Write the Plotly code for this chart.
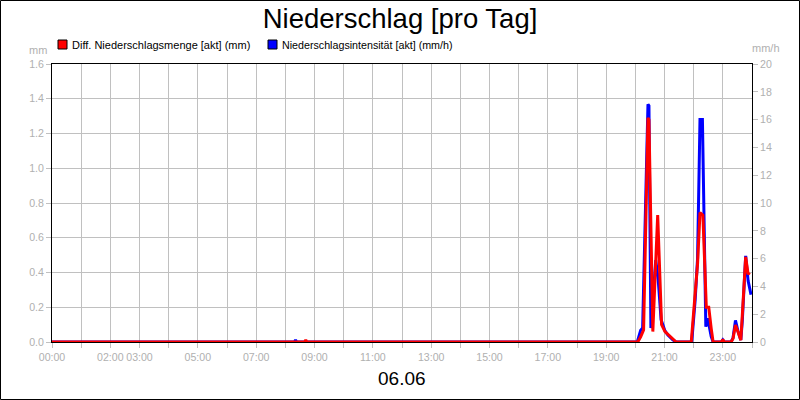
import pandas as pd
import plotly.graph_objects as go

DAY = "2024-06-06 "

# Niederschlagsintensität [mm/h] (rechte Achse)
int_times = ["00:00", "08:19", "08:21", "08:23",
             "20:04", "20:11", "20:15", "20:26", "20:28", "20:32", "20:42", "20:47",
             "20:53", "21:01", "21:07", "21:13", "21:17", "21:24",
             "21:56", "22:03", "22:08", "22:13", "22:18", "22:25", "22:29", "22:36", "22:40",
             "22:57", "23:00", "23:03",
             "23:17", "23:21", "23:26", "23:31", "23:37", "23:40", "23:47", "23:52", "23:58"]
int_vals = [0, 0, 0.15, 0,
            0, 0.85, 1.0, 17.1, 17.0, 1.0, 5.9, 4.5,
            1.6, 0.8, 0.5, 0.3, 0.15, 0,
            0, 3.0, 6.0, 16.0, 16.0, 1.1, 1.7, 0.4, 0,
            0, 0.15, 0,
            0, 0.3, 1.55, 0.8, 0.15, 1.5, 6.2, 4.4, 3.4]

# Diff. Niederschlagsmenge [mm] (linke Achse)
sum_times = ["00:00", "08:40", "08:42", "08:44",
             "20:05", "20:11", "20:17", "20:26", "20:28", "20:36", "20:46", "20:54",
             "21:01", "21:09", "21:17", "21:24",
             "21:55", "22:03", "22:08", "22:13", "22:19", "22:26", "22:31", "22:36", "22:40",
             "22:57", "23:00", "23:03",
             "23:17", "23:21", "23:26", "23:31", "23:37", "23:40", "23:47", "23:52", "23:55"]
sum_vals = [0, 0, 0.012, 0,
            0, 0.03, 0.07, 1.29, 1.28, 0.06, 0.73, 0.1,
            0.06, 0.04, 0.02, 0,
            0, 0.26, 0.45, 0.745, 0.73, 0.2, 0.2, 0.08, 0,
            0, 0.015, 0,
            0, 0.02, 0.098, 0.06, 0.01, 0.15, 0.49, 0.39, 0.4]

hours = list(range(25))
labelled = [0, 2, 3, 5, 7, 9, 11, 13, 15, 17, 19, 21, 23]

tickvals = [pd.Timestamp(DAY + "00:00") + pd.Timedelta(hours=h) for h in hours]
ticktext = ["%02d:00" % h if h in labelled else "" for h in hours]

GRID = "#c0c0c0"
TXT = "#b0b0b0"
FONT = "Liberation Sans"
TICK = 10.6

fig = go.Figure()
# empty trace keeps the base subplot (grid) alive
fig.add_trace(go.Scatter(x=[], y=[], yaxis="y", showlegend=False, hoverinfo="skip"))
# blue on y2 (right axis), red on y3 (left axis) so red is drawn on top
fig.add_trace(go.Scatter(
    x=pd.to_datetime([DAY + t for t in int_times]), y=int_vals, yaxis="y2",
    mode="lines", line=dict(color="#0000ff", width=3), showlegend=False))
fig.add_trace(go.Scatter(
    x=pd.to_datetime([DAY + t for t in sum_times]), y=sum_vals, yaxis="y3",
    mode="lines", line=dict(color="#ff0000", width=3), showlegend=False))

# plot area: x 52..752, y 64..342 px
def px_x(p):
    return (p - 52) / 700.0

def px_y(p):
    return (342 - p) / 278.0

shapes = [
    dict(type="rect", xref="paper", yref="paper",
         x0=px_x(0.5), x1=px_x(799.5), y0=px_y(399.5), y1=px_y(0.5),
         line=dict(color="black", width=1)),
    dict(type="rect", xref="paper", yref="paper",
         x0=px_x(58), x1=px_x(67), y0=px_y(49), y1=px_y(40),
         fillcolor="#ff0000", line=dict(color="black", width=1)),
    dict(type="rect", xref="paper", yref="paper",
         x0=px_x(268), x1=px_x(277), y0=px_y(49), y1=px_y(40),
         fillcolor="#0000ff", line=dict(color="black", width=1)),
]

annotations = [
    dict(text="Diff. Niederschlagsmenge [akt] (mm)", x=px_x(70), y=px_y(44.5),
         xanchor="left", yanchor="middle", font=dict(size=11, color="black")),
    dict(text="Niederschlagsintensität [akt] (mm/h)", x=px_x(280), y=px_y(44.5),
         xanchor="left", yanchor="middle", font=dict(size=10.7, color="black")),
    dict(text="mm", x=px_x(38), y=px_y(50), xanchor="center", yanchor="middle",
         font=dict(size=11, color=TXT)),
    dict(text="mm/h", x=px_x(766), y=px_y(48), xanchor="center", yanchor="middle",
         font=dict(size=11, color=TXT)),
    dict(text="06.06", x=0.5, y=px_y(378), xanchor="center", yanchor="middle",
         font=dict(size=19, color="black")),
]
for a in annotations:
    a.update(xref="paper", yref="paper", showarrow=False)

fig.update_layout(
    width=800, height=400,
    margin=dict(l=52, r=48, t=64, b=58),
    paper_bgcolor="white", plot_bgcolor="white",
    font=dict(family=FONT, size=11, color=TXT),
    title=dict(text="Niederschlag [pro Tag]", x=0.5, xanchor="center",
               y=1 - 18 / 400.0, yanchor="middle",
               font=dict(family=FONT, size=27.5, color="black")),
    showlegend=False,
    shapes=shapes,
    annotations=annotations,
    xaxis=dict(
        type="date",
        range=[DAY + "00:00", "2024-06-07 00:00"],
        tickmode="array", tickvals=tickvals, ticktext=ticktext, tickangle=0,
        showgrid=True, gridcolor=GRID, gridwidth=1,
        showline=True, linecolor="black", linewidth=1, mirror=True,
        ticks="outside", ticklen=5, tickcolor=GRID,
        tickfont=dict(size=TICK, color=TXT),
        zeroline=False,
    ),
    # base axis: only the mm grid
    yaxis=dict(
        range=[0, 1.6], tickmode="linear", tick0=0, dtick=0.2,
        showgrid=True, gridcolor=GRID, gridwidth=1,
        showticklabels=False, ticks="",
        showline=True, linecolor="black", linewidth=1,
        zeroline=False,
    ),
    yaxis2=dict(
        range=[0, 20], tickmode="linear", tick0=0, dtick=2,
        overlaying="y", side="right",
        showgrid=False,
        showline=True, linecolor="black", linewidth=1,
        ticks="outside", ticklen=5, tickcolor=GRID,
        tickfont=dict(size=TICK, color=TXT),
        zeroline=False,
    ),
    yaxis3=dict(
        range=[0, 1.6], tickmode="linear", tick0=0, dtick=0.2, tickformat=".1f",
        overlaying="y", side="left",
        showgrid=False,
        showline=True, linecolor="black", linewidth=1,
        ticks="outside", ticklen=5, tickcolor=GRID,
        tickfont=dict(size=TICK, color=TXT),
        zeroline=False,
    ),
)

fig.write_html("out.html", config={"displayModeBar": False},
               post_script="document.body.style.margin='0';")
